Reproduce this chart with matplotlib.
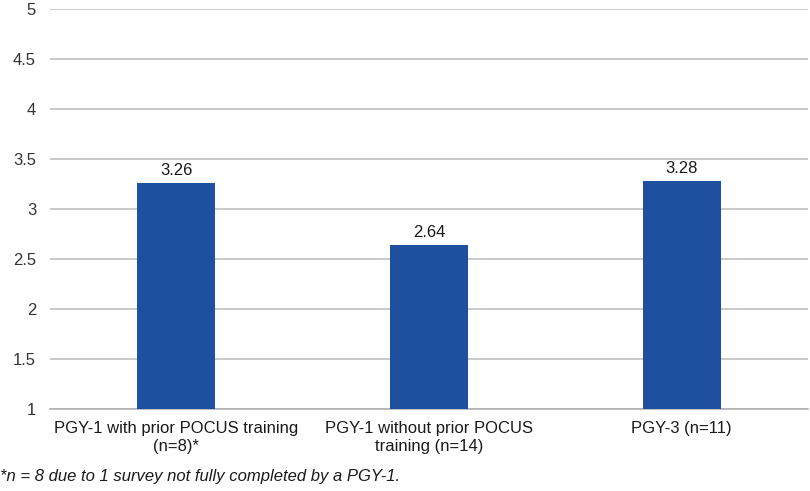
import matplotlib
matplotlib.use("Agg")
import matplotlib.pyplot as plt

categories = ["PGY-1 with prior POCUS training\n(n=8)*",
              "PGY-1 without prior POCUS\ntraining (n=14)",
              "PGY-3 (n=11)"]
values = [3.26, 2.64, 3.28]
value_labels = ["3.26", "2.64", "3.28"]
yticks = [1, 1.5, 2, 2.5, 3, 3.5, 4, 4.5, 5]
ytick_labels = ["1", "1.5", "2", "2.5", "3", "3.5", "4", "4.5", "5"]
footnote = "*n = 8 due to 1 survey not fully completed by a PGY-1."

plt.rcParams['font.family'] = ['Liberation Sans', 'DejaVu Sans']

fig = plt.figure(figsize=(8.1, 4.91), dpi=100)
ax = fig.add_axes([50/810, 1-409/491, 758/810, 400/491])

x = list(range(len(categories)))
bars = ax.bar(x, [v - 1 for v in values], bottom=1, width=0.31, color="#1f4f9f", zorder=3)
for xi, v, lab in zip(x, values, value_labels):
    ax.annotate(lab, (xi, v), xytext=(0, 3.5), textcoords="offset points",
                ha="center", va="bottom", fontsize=12, color="#1a1a1a")

ax.set_ylim(1, 5)
ax.set_xlim(-0.5, 2.5)
ax.set_yticks(yticks)
ax.set_yticklabels(ytick_labels, fontsize=12, color="#333333")
ax.set_xticks(x)
ax.set_xticklabels(categories, fontsize=12, color="#1a1a1a", linespacing=1.25)
ax.tick_params(axis="both", length=0)
ax.tick_params(axis="y", pad=10)
ax.tick_params(axis="x", pad=9)
ax.grid(axis="y", color="#c0c0c0", linewidth=1.2, zorder=0)
for s in ["left", "right", "top"]:
    ax.spines[s].set_visible(False)
ax.spines["bottom"].set_color("#b0b0b0")
ax.spines["bottom"].set_linewidth(1.2)

fig.text(0/810, 1-477/491, footnote, fontsize=12, style="italic", color="#1a1a1a",
         ha="left", va="center")

fig.savefig("out.png", dpi=100)
